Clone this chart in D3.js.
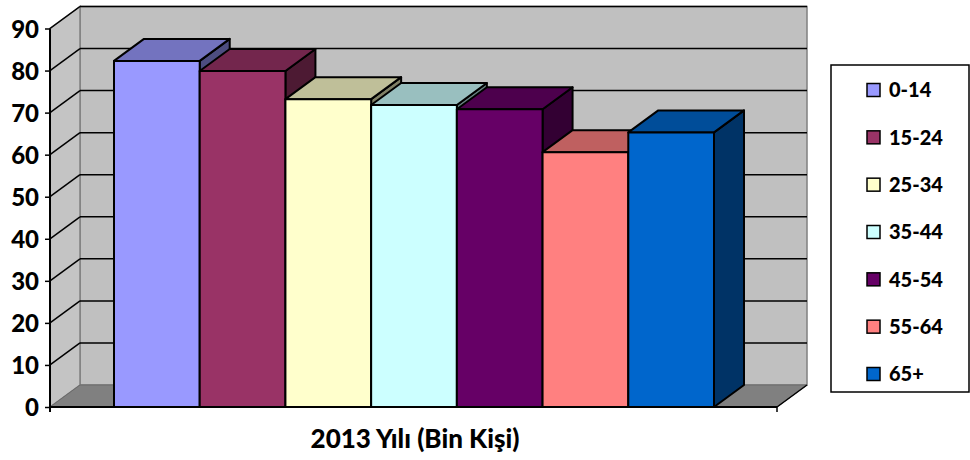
<!DOCTYPE html>
<html>
<head>
<meta charset="utf-8">
<script src="https://cdn.jsdelivr.net/npm/d3@7"></script>
<style>
  body { margin: 0; background: #fff; }
  svg text { font-family: Lato, "Open Sans", sans-serif; font-weight: bold; fill: #000; }
</style>
</head>
<body>
<svg id="chart" width="970" height="460"></svg>
<script>
// age groups and values (2013, thousand persons)
const categories = ["0-14", "15-24", "25-34", "35-44", "45-54", "55-64", "65+"];
const values = [82.3, 79.9, 73.2, 71.8, 70.8, 60.6, 65.3];
const colors = ["#9999ff", "#993366", "#ffffcc", "#ccffff", "#660066", "#ff8080", "#0066cc"];
const yTicks = [0, 10, 20, 30, 40, 50, 60, 70, 80, 90];
const xTitle = "2013 Yılı (Bin Kişi)";

const svg = d3.select("#chart");

// depth offset of the 3d box
const depth = {dx: 30, dy: -22};

const y = d3.scaleLinear().domain([0, 90]).range([407, 28.5]);
const x = d3.scaleBand().domain(categories).range([114, 714]).padding(0);
const plot = {left: 50, right: 777};

function shade(c, k) {
    const r = d3.rgb(c);
    return d3.rgb(r.r * k, r.g * k, r.b * k).formatHex();
}
function poly(pts) {
    return "M" + pts.map(p => p.join(",")).join("L") + "Z";
}

const y0 = y(0), yTop = y(90);

// back wall
svg.append("rect")
    .attr("x", plot.left + depth.dx).attr("y", yTop + depth.dy)
    .attr("width", plot.right - plot.left).attr("height", y0 - yTop)
    .attr("fill", "#c0c0c0").attr("stroke", "#808080").attr("stroke-width", 1.5);

// left wall
svg.append("path")
    .attr("d", poly([[plot.left, y0], [plot.left, yTop], [plot.left + depth.dx, yTop + depth.dy], [plot.left + depth.dx, y0 + depth.dy]]))
    .attr("fill", "#c4c4c4").attr("stroke", "#808080").attr("stroke-width", 1.5);

// floor
svg.append("path")
    .attr("d", poly([[plot.left, y0], [plot.right, y0], [plot.right + depth.dx, y0 + depth.dy], [plot.left + depth.dx, y0 + depth.dy]]))
    .attr("fill", "#808080").attr("stroke", "#6a6a6a").attr("stroke-width", 1);

// gridlines on back and left wall
const grid = svg.append("g").attr("stroke", "#000").attr("stroke-width", 1.5);
yTicks.filter(t => t > 0).forEach(t => {
    grid.append("line")
        .attr("x1", plot.left + depth.dx).attr("x2", plot.right + depth.dx)
        .attr("y1", y(t) + depth.dy).attr("y2", y(t) + depth.dy);
    grid.append("line")
        .attr("x1", plot.left).attr("x2", plot.left + depth.dx)
        .attr("y1", y(t)).attr("y2", y(t) + depth.dy);
});
// right edge of floor
svg.append("line")
    .attr("x1", plot.right).attr("y1", y0)
    .attr("x2", plot.right + depth.dx).attr("y2", y0 + depth.dy)
    .attr("stroke", "#000").attr("stroke-width", 1.5);

// bars, drawn left to right
const bars = svg.append("g").attr("stroke", "#000").attr("stroke-width", 2).attr("stroke-linejoin", "round");
categories.forEach((c, i) => {
    const x0 = x(c), x1 = x(c) + x.bandwidth(), yt = y(values[i]);
    const g = bars.append("g");
    g.append("path")
        .attr("d", poly([[x1, yt], [x1 + depth.dx, yt + depth.dy], [x1 + depth.dx, y0 + depth.dy], [x1, y0]]))
        .attr("fill", shade(colors[i], 0.5));
    g.append("path")
        .attr("d", poly([[x0, yt], [x0 + depth.dx, yt + depth.dy], [x1 + depth.dx, yt + depth.dy], [x1, yt]]))
        .attr("fill", shade(colors[i], 0.75));
    g.append("rect")
        .attr("x", x0).attr("y", yt)
        .attr("width", x.bandwidth()).attr("height", y0 - yt)
        .attr("fill", colors[i]);
});

// front floor line (category axis)
svg.append("line")
    .attr("x1", plot.left).attr("x2", plot.right)
    .attr("y1", y0).attr("y2", y0)
    .attr("stroke", "#000").attr("stroke-width", 2);
svg.append("line")
    .attr("x1", plot.right).attr("x2", plot.right)
    .attr("y1", y0).attr("y2", y0 + 5)
    .attr("stroke", "#000").attr("stroke-width", 1.5);

// value axis
const yAxis = d3.axisLeft(y).tickValues(yTicks).tickSize(5).tickPadding(6);
const ax = svg.append("g")
    .attr("transform", "translate(" + plot.left + ",0)")
    .call(yAxis);
ax.select(".domain").attr("stroke", "#000").attr("stroke-width", 2).attr("d", "M0," + (y0 + 5) + "V" + yTop);
ax.selectAll(".tick line").attr("stroke", "#000").attr("stroke-width", 1.5);
ax.selectAll(".tick text")
    .style("font-family", "Lato, sans-serif")
    .style("font-weight", "900")
    .style("font-size", "24px")
    .attr("dy", "0.36em");

// axis title
svg.append("text")
    .attr("x", 415).attr("y", 448)
    .attr("text-anchor", "middle")
    .style("font-size", "26px")
    .style("font-weight", "900")
    .text(xTitle);

// legend
const legend = svg.append("g");
legend.append("rect")
    .attr("x", 831).attr("y", 65).attr("width", 138).attr("height", 327)
    .attr("fill", "#fff").attr("stroke", "#000").attr("stroke-width", 1.5);
const ly = d3.scalePoint().domain(categories).range([90, 374]);
categories.forEach((c, i) => {
    legend.append("rect")
        .attr("x", 867).attr("y", ly(c) - 6.5)
        .attr("width", 13).attr("height", 13)
        .attr("fill", colors[i]).attr("stroke", "#000").attr("stroke-width", 1.5);
    legend.append("text")
        .attr("x", 889).attr("y", ly(c))
        .attr("dy", "0.36em")
        .style("font-size", "20px")
        .style("font-weight", "900")
        .text(c);
});
</script>
</body>
</html>
